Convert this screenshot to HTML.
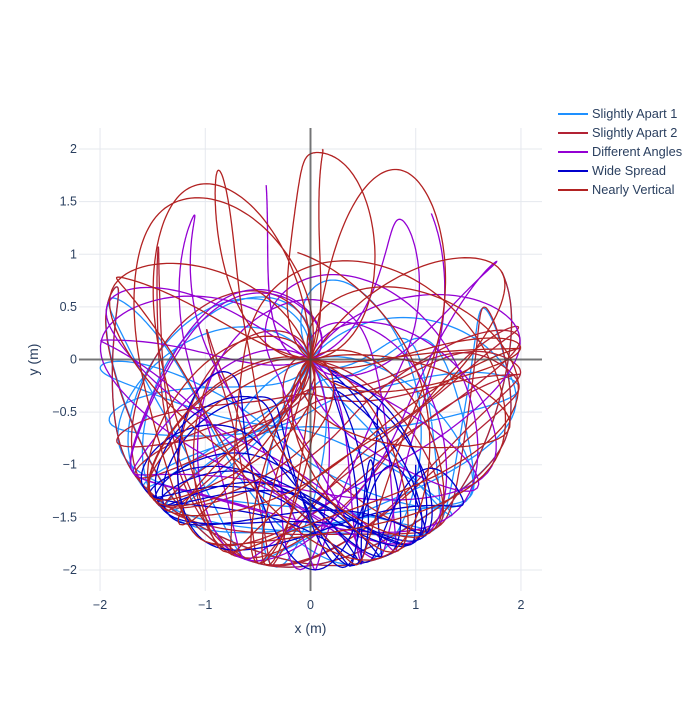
<!DOCTYPE html>
<html><head><meta charset="utf-8"><style>
body{margin:0;background:#fff;font-family:"Liberation Sans",sans-serif;}
svg text{font-family:"Liberation Sans",sans-serif;fill:#2a3f5f;}
</style></head><body>
<svg id="chart" width="700" height="700" xmlns="http://www.w3.org/2000/svg">
<rect width="700" height="700" fill="#fff"/>
<g id="grid"></g>
<g id="traces"></g>
<g id="axes"></g>
<g id="legend"></g>
<text x="310.5" y="633" text-anchor="middle" font-size="14">x (m)</text>
<text x="38" y="359.5" text-anchor="middle" font-size="14" transform="rotate(-90 38 359.5)">y (m)</text>
</svg>
<script>
const seriesNames=["Slightly Apart 1","Slightly Apart 2","Different Angles","Wide Spread","Nearly Vertical"];
const seriesColors=["#1e90ff","#b22234","#9400d3","#0000cd","#b22222"];
const startTheta1=[2.0,2.0,2.9,1.57,3.05];
const startTheta2=[2.0,2.002,2.0,0.0,3.12];
const xTicks=[-2,-1,0,1,2];
const yTicks=[-2,-1.5,-1,-0.5,0,0.5,1,1.5,2];
const yTickLabels=["−2","−1.5","−1","−0.5","0","0.5","1","1.5","2"];
const xTickLabels=["−2","−1","0","1","2"];
const NS="http://www.w3.org/2000/svg";
const X0=79,X1=542,Y0=128,Y1=591,R=2.2;
const sx=v=>X0+(v+R)/(2*R)*(X1-X0);
const sy=v=>Y1-(v+R)/(2*R)*(Y1-Y0);
function mk(t,a,p){const e=document.createElementNS(NS,t);for(const k in a)e.setAttribute(k,a[k]);p.appendChild(e);return e;}
const grid=document.getElementById('grid'),axes=document.getElementById('axes'),tr=document.getElementById('traces'),lg=document.getElementById('legend');
xTicks.forEach((v,i)=>{const l=mk('line',{x1:sx(v),x2:sx(v),y1:Y0,y2:Y1,stroke:'#e5e8ee','stroke-width':1},grid);

const t=mk('text',{x:sx(v),y:Y1+18,'text-anchor':'middle','font-size':12.5},axes);t.textContent=xTickLabels[i];
});
yTicks.forEach((v,i)=>{const l=mk('line',{x1:X0,x2:X1,y1:sy(v),y2:sy(v),stroke:'#e5e8ee','stroke-width':1},grid);

const t=mk('text',{x:X0-2,y:sy(v)+4,'text-anchor':'end','font-size':12.5},axes);t.textContent=yTickLabels[i];
});
function deriv(s){const g=9.81,[a,b,w1,w2]=s,d=a-b,den=3-Math.cos(2*d);
const dw1=(-g*3*Math.sin(a)-g*Math.sin(a-2*b)-2*Math.sin(d)*(w2*w2+w1*w1*Math.cos(d)))/den;
const dw2=(2*Math.sin(d)*(w1*w1*2+g*2*Math.cos(a)+w2*w2*Math.cos(d)))/den;return[w1,w2,dw1,dw2];}
function sim(t1,t2){let s=[t1,t2,0,0];const dt=0.005,pts=[];
for(let i=0;i<4000;i++){const k1=deriv(s),k2=deriv(s.map((v,j)=>v+dt/2*k1[j])),k3=deriv(s.map((v,j)=>v+dt/2*k2[j])),k4=deriv(s.map((v,j)=>v+dt*k3[j]));
s=s.map((v,j)=>v+dt/6*(k1[j]+2*k2[j]+2*k3[j]+k4[j]));
const x=Math.sin(s[0])+Math.sin(s[1]),y=-Math.cos(s[0])-Math.cos(s[1]);
if(i%2==0)pts.push(sx(x).toFixed(1)+','+sy(y).toFixed(1));}return pts.join(' ');}
seriesNames.forEach((n,i)=>{const p=mk('polyline',{points:sim(startTheta1[i],startTheta2[i]),fill:'none',stroke:seriesColors[i],'stroke-width':1.3},tr);

const y=114+i*19;
const l=mk('line',{x1:558,x2:588,y1:y,y2:y,stroke:seriesColors[i],'stroke-width':2},lg);

const t=mk('text',{x:592,y:y+4,'font-size':12.8},lg);t.textContent=n;
});
const zx=mk('line',{x1:sx(0),x2:sx(0),y1:Y0,y2:Y1,stroke:'#444','stroke-width':2,opacity:0.7},axes);

const zy=mk('line',{x1:X0,x2:X1,y1:sy(0),y2:sy(0),stroke:'#444','stroke-width':2,opacity:0.7},axes);

</script>
</body></html>
